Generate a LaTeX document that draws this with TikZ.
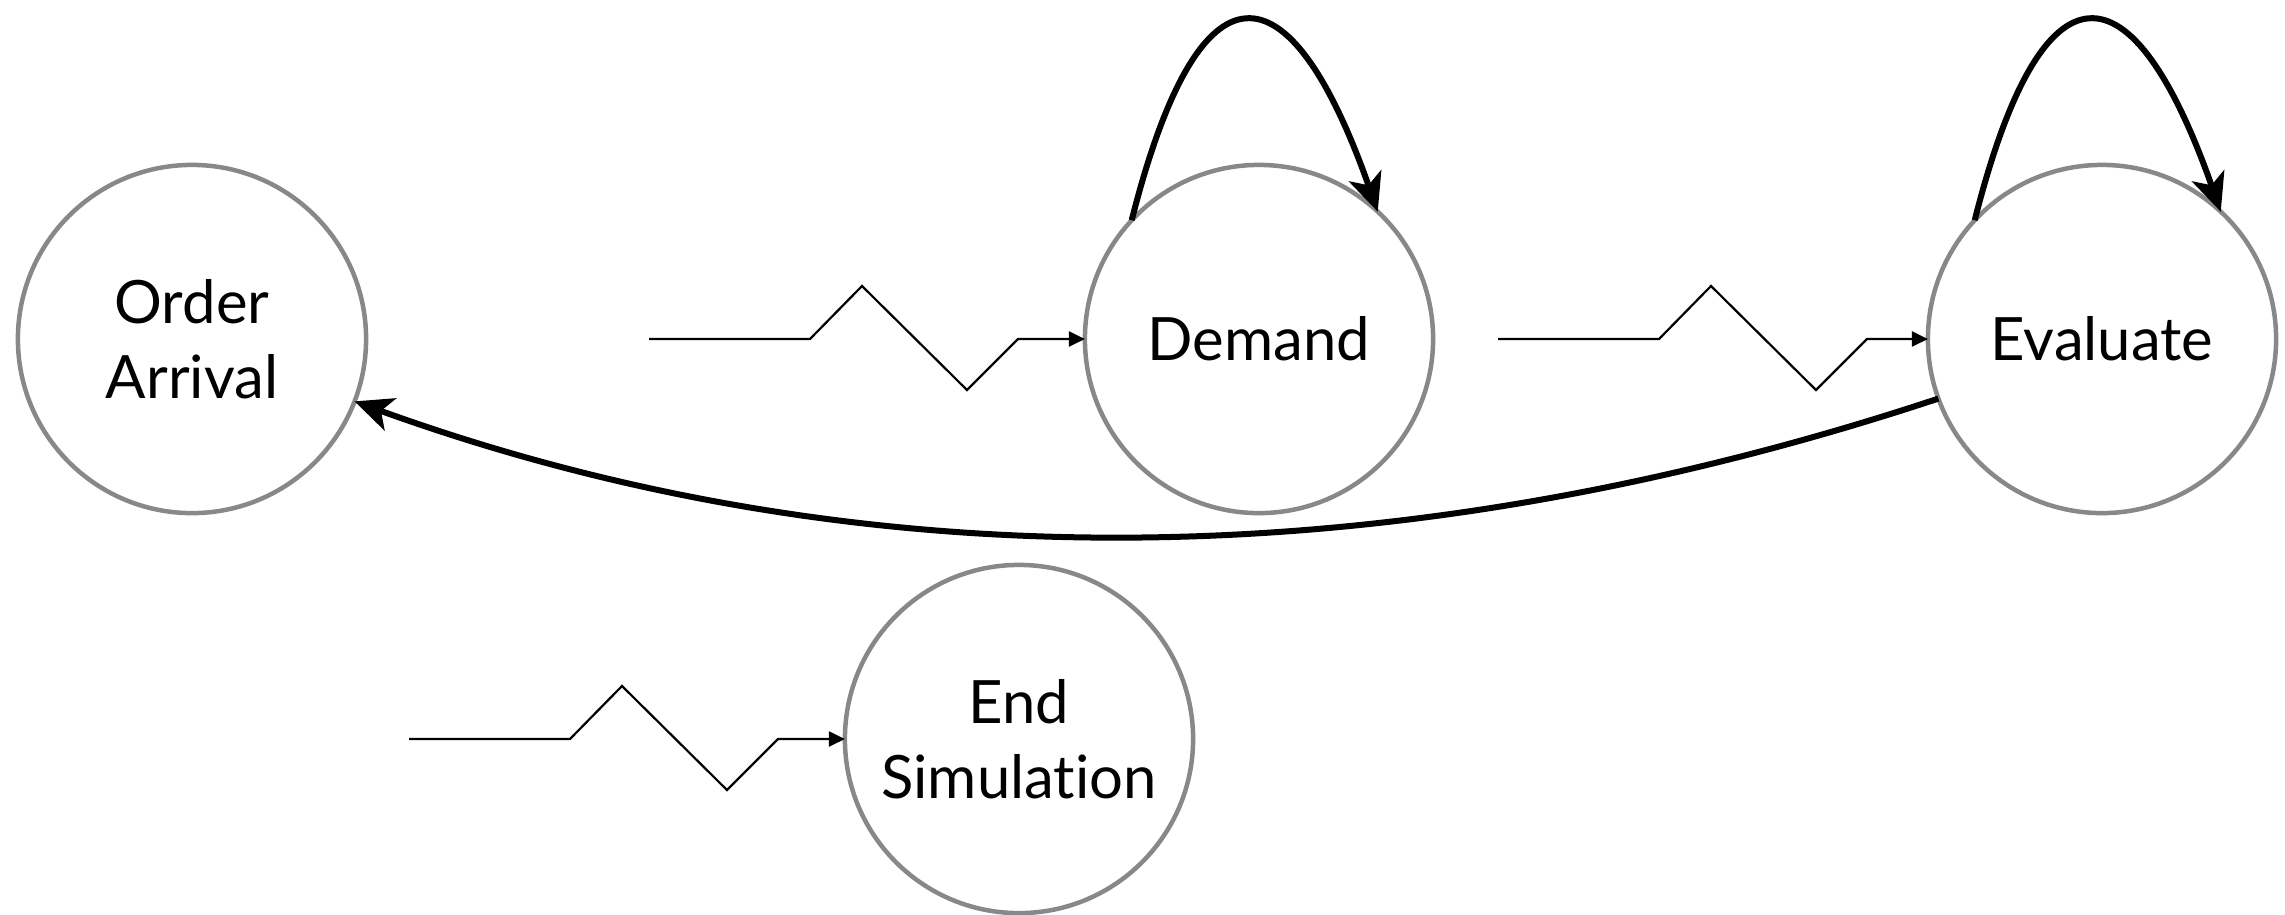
\documentclass[tikz,border=0pt]{standalone}
\usepackage{fontspec}
\setmainfont[Ligatures=NoCommon]{Lato}
\usetikzlibrary{arrows.meta,calc}
\definecolor{ringgray}{HTML}{87888C}
\tikzset{
  state/.style={circle,draw=ringgray,line width=0.045cm,minimum size=3.48cm,inner sep=0pt,outer sep=0pt,
    align=center,font=\fontsize{17}{21.3}\selectfont},
  zz/.style={line width=0.022cm,line join=miter,-{Triangle[length=0.16cm,width=0.15cm]}},
  bigarr/.style={line width=0.06cm,-{Stealth[length=0.38cm,width=0.34cm,inset=0.1cm]}}
}
\begin{document}
\begin{tikzpicture}[x=0.01cm,y=-0.01cm]
\useasboundingbox (0,0) rectangle (2285,914);
\node[state] (oa) at (192,339) {Order\\Arrival};
\node[state] (dem) at (1259,339) {Demand};
\node[state] (eva) at (2102,339) {Evaluate};
\node[state] (es) at (1019,739) {End\\Simulation};

\coordinate (zdem) at ($(dem.center)+(-610,0)$);
\coordinate (zeva) at ($(eva.center)+(-604,0)$);
\coordinate (zes) at ($(es.center)+(-610,0)$);

\foreach \s/\t in {zdem/dem,zeva/eva,zes/es}{
  \draw[zz] (\s) -- ++(161,0) -- ++(52,-53) -- ++(105,104) -- ++(51,-51) -- (\t.west);
}

\draw[bigarr] (dem.137) .. controls +(68,-269) and +(-88,-250) .. (dem.47);
\draw[bigarr] (eva.137) .. controls +(68,-269) and +(-88,-250) .. (eva.47);
\draw[bigarr] (eva.200) .. controls +(-549,182) and +(503,182) .. (oa.-21);
\end{tikzpicture}
\end{document}
